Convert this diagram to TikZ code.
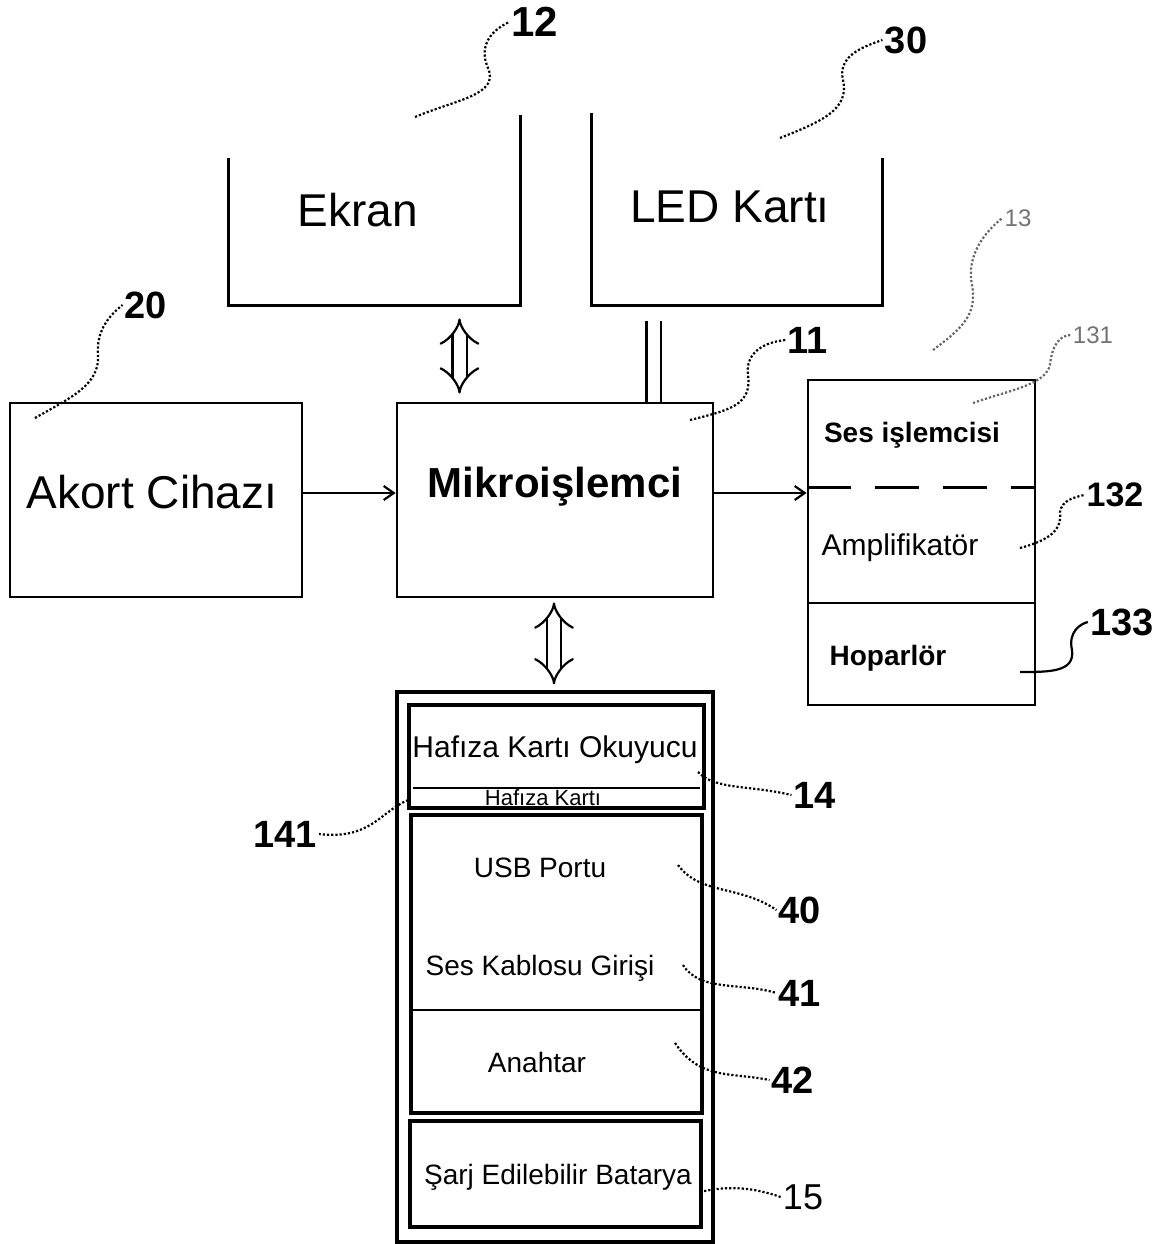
\documentclass[tikz,border=0pt]{standalone}
\usepackage{fontspec}
\setmainfont{Liberation Sans}
\usetikzlibrary{arrows.meta}
\begin{document}
\begin{tikzpicture}[x=0.5pt,y=-0.5pt,
  box/.style={draw, line width=1.4pt, inner sep=0pt},
  hid/.style={inner sep=0pt},
  dbl/.style={line width=1.1pt, double distance=6pt},
  dblarr/.style={dbl, {Implies}-{Implies}},
  sarr/.style={line width=1.1pt, -{Straight Barb[length=5pt,width=7pt]}},
  lead/.style={densely dotted, line width=1.1pt},
  num/.style={font=\fontsize{19pt}{21pt}\selectfont\bfseries, inner sep=1pt},
  smallnum/.style={font=\fontsize{12pt}{14pt}\selectfont, text=black!55, inner sep=1pt},
  bigtxt/.style={font=\fontsize{23pt}{26pt}\selectfont, inner sep=0pt},
  boldbig/.style={font=\fontsize{21pt}{24pt}\selectfont\bfseries, inner sep=0pt},
  midtxt/.style={font=\fontsize{15pt}{17pt}\selectfont, inner sep=0pt},
  midbold/.style={font=\fontsize{14pt}{16pt}\selectfont\bfseries, inner sep=0pt},
  smtxt/.style={font=\fontsize{14pt}{16pt}\selectfont, inner sep=0pt},
  tinytxt/.style={font=\fontsize{11pt}{13pt}\selectfont, inner sep=0pt}
]
\useasboundingbox (0,0) rectangle (1169,1244);

% helper coordinates
\coordinate (xE) at (459.5,0);
\coordinate (xL) at (653.5,0);
\coordinate (xM) at (554,0);
\coordinate (yA) at (0,493);
\coordinate (yTop) at (0,158);

% ---- Ekran (open top)
\node[hid, minimum width=145.5pt, minimum height=95pt] (ekran) at (374.5,210) {};
\draw[line width=1.3pt] (ekran.south west |- yTop) -- (ekran.south west) -- (ekran.south east) -- (ekran.north east);
\node[bigtxt] (ekrant) at (358,210) {Ekran};

% ---- LED Kartı (open top)
\node[hid, minimum width=145pt, minimum height=96pt] (led) at (737,209) {};
\draw[line width=1.3pt] (led.north west) -- (led.south west) -- (led.south east) -- (led.south east |- yTop);
\node[bigtxt] (ledt) at (730,207) {LED Kartı};

% ---- Mikroişlemci
\node[box, minimum width=158pt, minimum height=97pt] (mikro) at (555,500) {};
\node[boldbig] (mikrot) at (555,487) {Mikroişlemci};

% ---- Akort Cihazı
\node[box, minimum width=146pt, minimum height=97pt] (akort) at (156,500) {};
\node[bigtxt] (akortt) at (152,492) {Akort Cihazı};

% ---- Sound block
\node[box, minimum width=113.5pt, minimum height=162.5pt] (ses) at (921.5,542.5) {};
\coordinate (yDash) at (0,487);
\coordinate (yHop) at (0,603);
\draw[line width=1.5pt, dash pattern=on 22pt off 12pt] (ses.west |- yDash) -- (ses.east |- yDash);
\draw[line width=1.4pt] (ses.west |- yHop) -- (ses.east |- yHop);
\node[midbold] (sest) at (912,435) {Ses işlemcisi};
\node[midtxt] (ampt) at (900,548) {Amplifikatör};
\node[midbold] (hopt) at (888,658) {Hoparlör};

% ---- Bottom block
\node[box, line width=1.6pt, minimum width=158pt, minimum height=275pt] (outer) at (555,967) {};
\node[box, line width=1.6pt, minimum width=147.5pt, minimum height=51.5pt] (hafiza) at (556.5,756.5) {};
\coordinate (yHK) at (0,788);
\draw[line width=1.2pt] ([xshift=3pt]hafiza.west |- yHK) -- ([xshift=-3pt]hafiza.east |- yHK);
\node[smtxt, font=\fontsize{15pt}{17pt}\selectfont] (hafizat) at (555,750) {Hafıza Kartı Okuyucu};
\node[tinytxt] (hkt) at (543,798) {Hafıza Kartı};

\node[box, line width=1.6pt, minimum width=145.5pt, minimum height=149pt] (port) at (556.5,964) {};
\coordinate (yAn) at (0,1010);
\draw[line width=1.4pt] (port.west |- yAn) -- (port.east |- yAn);
\node[smtxt] (usbt) at (540,868) {USB Portu};
\node[smtxt] (kablot) at (540,968) {Ses Kablosu Girişi};
\node[smtxt] (anat) at (537,1062) {Anahtar};

\node[box, line width=1.6pt, minimum width=145.5pt, minimum height=53pt] (bat) at (555.5,1174) {};
\node[smtxt] (batt) at (558,1177) {Şarj Edilebilir Batarya};

% ---- connectors
\draw[dblarr, shorten <=6.5pt, shorten >=4pt] (ekran.south -| xE) -- (mikro.north -| xE);
\draw[dbl, shorten <=8pt] (led.south -| xL) -- (mikro.north -| xL);
\draw[dblarr, shorten <=2pt, shorten >=3pt] (mikro.south -| xM) -- (outer.north -| xM);
\draw[sarr] (akort.east |- yA) -- (mikro.west |- yA);
\draw[sarr] (mikro.east |- yA) -- (ses.west |- yA);

% ---- reference numbers and leaders
\node[num, font=\fontsize{21pt}{23pt}\selectfont\bfseries] (n12) at (535,22) {12};
\coordinate (s12) at (415,117);
\draw[lead] (s12) .. controls (455,100) and (500,95) .. (488,68) .. controls (478,45) and (492,30) .. (n12.west);

\node[num] (n30) at (906,40) {30};
\coordinate (s30) at (780,138);
\draw[lead] (s30) .. controls (820,122) and (850,110) .. (843,80) .. controls (838,58) and (858,48) .. (n30.west);

\node[smallnum] (n13) at (1018,218) {13};
\coordinate (s13) at (933,350);
\draw[lead, black!60] (s13) .. controls (960,330) and (978,315) .. (972,285) .. controls (966,255) and (985,232) .. (n13.west);

\node[num] (n20) at (146,305) {20};
\coordinate (s20) at (35,418);
\draw[lead] (s20) .. controls (70,398) and (100,385) .. (98,355) .. controls (96,330) and (110,315) .. (n20.west);

\node[num] (n11) at (808,340) {11};
\coordinate (s11) at (690,420);
\draw[lead] (s11) .. controls (730,410) and (752,405) .. (748,375) .. controls (745,352) and (765,342) .. (n11.west);

\node[smallnum] (n131) at (1093,335) {131};
\coordinate (s131) at (973,403);
\draw[lead, black!60] (s131) .. controls (1010,390) and (1045,385) .. (1050,365) .. controls (1052,345) and (1060,335) .. (n131.west);

\node[num, font=\fontsize{17pt}{19pt}\selectfont\bfseries] (n132) at (1115,495) {132};
\coordinate (s132) at (1020,548);
\draw[lead] (s132) .. controls (1050,540) and (1062,530) .. (1060,512) .. controls (1062,500) and (1075,497) .. (n132.west);

\node[num] (n133) at (1122,622) {133};
\coordinate (s133) at (1020,672);
\draw[line width=1.1pt] (s133) .. controls (1050,672) and (1075,672) .. (1072,650) .. controls (1068,632) and (1080,624) .. (n133.west);

\node[num] (n14) at (815,795) {14};
\coordinate (s14) at (698,772);
\draw[lead] (s14) .. controls (715,790) and (750,785) .. (n14.west);

\node[num] (n141) at (285,834) {141};
\coordinate (s141) at (408,800);
\draw[lead] (s141) .. controls (380,812) and (370,840) .. (n141.east);

\node[num] (n40) at (800,910) {40};
\coordinate (s40) at (678,865);
\draw[lead] (s40) .. controls (700,895) and (740,885) .. (n40.west);

\node[num] (n41) at (800,993) {41};
\coordinate (s41) at (683,965);
\draw[lead] (s41) .. controls (700,992) and (740,982) .. (n41.west);

\node[num] (n42) at (793,1080) {42};
\coordinate (s42) at (675,1043);
\draw[lead] (s42) .. controls (700,1080) and (730,1072) .. (n42.west);

\node[num, font=\fontsize{18pt}{20pt}\selectfont] (n15) at (803,1197) {15};
\coordinate (s15) at (700,1192);
\draw[lead] (s15) .. controls (730,1185) and (755,1188) .. (n15.west);

\end{tikzpicture}
\end{document}
